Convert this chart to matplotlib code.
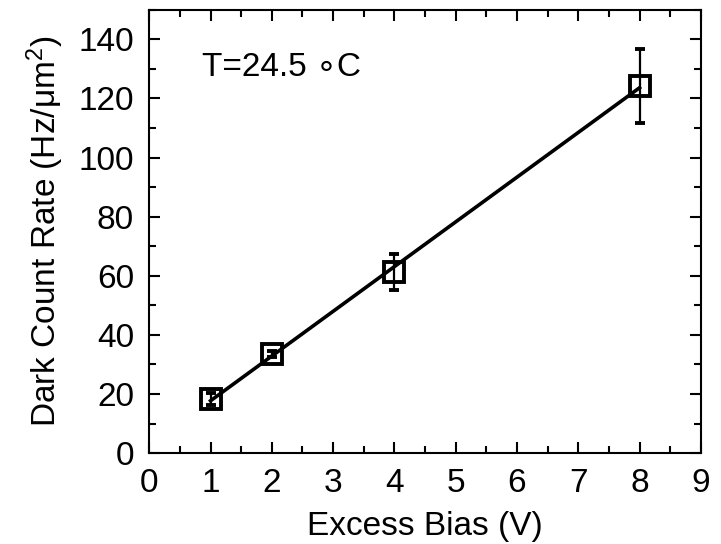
import numpy as np
import matplotlib.pyplot as plt
from matplotlib.ticker import MultipleLocator

plt.rcParams['font.family'] = ['Liberation Sans', 'DejaVu Sans']
plt.rcParams['mathtext.fontset'] = 'custom'
plt.rcParams['mathtext.rm'] = 'Liberation Sans'
plt.rcParams['mathtext.it'] = 'Liberation Sans:italic'

bias = np.array([1, 2, 4, 8])
dcr = np.array([18.2, 33.5, 61.3, 124.3])
dcr_err = np.array([2.0, 1.0, 6.0, 12.5])

fig, ax = plt.subplots(figsize=(7.21, 5.44), dpi=100)

# linear fit through the points
k, b = np.polyfit(bias, dcr, 1)
xf = np.array([bias.min(), bias.max()])
ax.plot(xf, k * xf + b, color='black', linewidth=2.6, zorder=2)

ax.errorbar(bias, dcr, yerr=dcr_err, fmt='s', mfc='none', mec='black',
            mew=2.8, ms=15, ecolor='black', elinewidth=1.6, capsize=3.6,
            capthick=1.6, zorder=3)

ax.set_xlim(0, 9)
ax.set_ylim(0, 150)
ax.xaxis.set_major_locator(MultipleLocator(1))
ax.xaxis.set_minor_locator(MultipleLocator(0.5))
ax.yaxis.set_minor_locator(MultipleLocator(10))
ax.set_yticks(np.arange(0, 141, 20))
ax.tick_params(which='both', direction='in', top=True, right=True,
               width=1.5, labelsize=24)
ax.tick_params(which='major', length=8)
ax.tick_params(axis='x', which='major', pad=11)
ax.tick_params(axis='y', which='major', pad=11)
ax.tick_params(which='minor', length=5)
for s in ax.spines.values():
    s.set_linewidth(1.5)

ax.set_xlabel('Excess Bias (V)', fontsize=24, labelpad=8)
ax.set_ylabel('Dark Count Rate (Hz/μm$^2$)', fontsize=24, labelpad=9)
ax.text(0.86, 130.5, 'T=24.5 ∘C', fontsize=24, va='center', ha='left')

fig.subplots_adjust(left=0.207, right=0.972, top=0.982, bottom=0.167)
fig.savefig('out.png', dpi=100)
